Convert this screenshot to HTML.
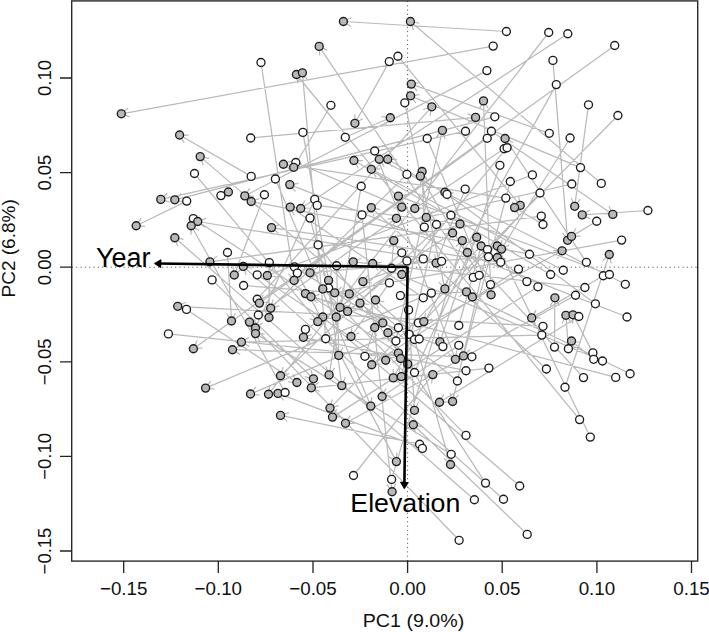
<!DOCTYPE html>
<html><head><meta charset="utf-8"><style>
html,body{margin:0;padding:0;background:#fff;}
body{width:709px;height:632px;position:relative;overflow:hidden;}
</style></head><body>
<svg width="709" height="632" viewBox="0 0 709 632" style="position:absolute;left:0;top:0"><line x1="72" y1="267.2" x2="698" y2="267.2" stroke="#444" stroke-width="1" stroke-dasharray="1 3.3"/><line x1="407.6" y1="1" x2="407.6" y2="561" stroke="#444" stroke-width="1" stroke-dasharray="1 3.3"/><path d="M261.0 62.5L294.1 280.4 M294.1 280.4l3.3 -8.4 M294.1 280.4l-5.6 -7.0 M330.9 105.3L293.7 167.3 M293.7 167.3l7.9 -4.4 M293.7 167.3l0.2 -9.0 M389.3 61.6L354.9 123.3 M354.9 123.3l7.7 -4.6 M354.9 123.3l-0.1 -9.0 M397.9 56.2L520.2 205.4 M520.2 205.4l-1.5 -8.9 M520.2 205.4l-8.4 -3.2 M404.8 102.8L444.9 288.9 M444.9 288.9l2.8 -8.6 M444.9 288.9l-6.0 -6.7 M506.4 31.5L343.4 21.5 M343.4 21.5l7.5 5.0 M343.4 21.5l8.1 -4.0 M548.7 32.5L268.5 394.2 M268.5 394.2l8.3 -3.4 M268.5 394.2l1.2 -8.9 M567.8 33.7L300.7 208.5 M300.7 208.5l9.0 -0.5 M300.7 208.5l4.1 -8.0 M493.2 46.1L121.3 113.8 M121.3 113.8l8.5 3.0 M121.3 113.8l6.9 -5.8 M552.9 60.4L567.6 240.3 M567.6 240.3l3.9 -8.1 M567.6 240.3l-5.1 -7.4 M486.9 70.6L244.8 195.9 M244.8 195.9l9.0 0.4 M244.8 195.9l4.9 -7.6 M556.3 84.6L393.3 377.9 M393.3 377.9l7.7 -4.6 M393.3 377.9l-0.1 -9.0 M588.5 104.8L574.7 206.3 M574.7 206.3l5.5 -7.1 M574.7 206.3l-3.4 -8.3 M614.7 45.5L193.4 348.7 M193.4 348.7l9.0 -0.9 M193.4 348.7l3.7 -8.2 M194.5 173.5L317.8 321.6 M317.8 321.6l-1.5 -8.9 M317.8 321.6l-8.4 -3.1 M186.7 201.1L136.2 225.7 M136.2 225.7l9.0 0.6 M136.2 225.7l5.0 -7.5 M220.9 195.6L228.4 192.0 M228.4 192.0l-9.0 -0.7 M228.4 192.0l-5.1 7.4 M250.7 138.0L475.6 117.4 M475.6 117.4l-8.2 -3.8 M475.6 117.4l-7.4 5.2 M302.9 132.4L328.6 280.4 M328.6 280.4l3.1 -8.4 M328.6 280.4l-5.8 -6.9 M295.8 162.5L401.8 207.1 M401.8 207.1l-5.4 -7.2 M401.8 207.1l-8.9 1.1 M251.2 176.4L179.6 135.0 M179.6 135.0l4.5 7.8 M179.6 135.0l9.0 0.0 M275.4 179.0L370.8 406.1 M370.8 406.1l1.1 -8.9 M370.8 406.1l-7.2 -5.4 M264.4 194.7L234.3 275.0 M234.3 275.0l6.9 -5.7 M234.3 275.0l-1.5 -8.9 M314.7 199.4L255.5 328.0 M255.5 328.0l7.3 -5.2 M255.5 328.0l-0.8 -9.0 M345.3 137.3L390.3 117.7 M390.3 117.7l-8.9 -1.0 M390.3 117.7l-5.3 7.2 M427.2 138.5L491.1 294.8 M491.1 294.8l1.2 -8.9 M491.1 294.8l-7.1 -5.5 M374.7 151.0L455.4 359.3 M455.4 359.3l1.4 -8.9 M455.4 359.3l-7.0 -5.6 M406.9 174.4L270.7 308.2 M270.7 308.2l8.7 -2.3 M270.7 308.2l2.4 -8.7 M361.2 186.2L329.1 374.9 M329.1 374.9l5.7 -6.9 M329.1 374.9l-3.1 -8.4 M447.0 194.4L387.7 159.2 M387.7 159.2l4.4 7.8 M387.7 159.2l9.0 0.1 M494.8 116.8L174.8 199.8 M174.8 199.8l8.7 2.4 M174.8 199.8l6.4 -6.3 M465.5 131.2L160.8 199.4 M160.8 199.4l8.6 2.7 M160.8 199.4l6.6 -6.1 M491.4 131.2L612.8 214.4 M612.8 214.4l-3.9 -8.1 M612.8 214.4l-9.0 -0.7 M487.2 138.3L259.4 303.1 M259.4 303.1l9.0 -0.9 M259.4 303.1l3.7 -8.2 M504.1 148.7L414.8 208.5 M414.8 208.5l9.0 -0.6 M414.8 208.5l4.0 -8.1 M507.1 147.7L401.8 274.5 M401.8 274.5l8.4 -3.1 M401.8 274.5l1.5 -8.9 M549.3 133.3L411.3 84.1 M411.3 84.1l5.8 6.9 M411.3 84.1l8.9 -1.6 M570.1 138.0L501.5 249.1 M501.5 249.1l7.9 -4.3 M501.5 249.1l0.3 -9.0 M499.9 165.3L439.9 341.9 M439.9 341.9l6.8 -5.9 M439.9 341.9l-1.8 -8.8 M532.4 174.9L267.3 275.5 M267.3 275.5l8.9 1.4 M267.3 275.5l5.7 -7.0 M510.3 181.5L463.5 355.9 M463.5 355.9l6.4 -6.4 M463.5 355.9l-2.3 -8.7 M571.8 184.0L426.3 217.4 M426.3 217.4l8.6 2.6 M426.3 217.4l6.6 -6.1 M465.2 189.1L436.1 263.0 M436.1 263.0l7.0 -5.6 M436.1 263.0l-1.3 -8.9 M540.0 193.0L423.8 321.6 M423.8 321.6l8.6 -2.8 M423.8 321.6l1.9 -8.8 M505.8 198.1L283.4 164.2 M283.4 164.2l7.0 5.6 M283.4 164.2l8.4 -3.3 M617.9 115.5L330.0 408.1 M330.0 408.1l8.7 -2.4 M330.0 408.1l2.3 -8.7 M580.5 167.6L410.6 95.8 M410.6 95.8l5.4 7.2 M410.6 95.8l8.9 -1.1 M601.3 183.4L410.4 21.5 M410.4 21.5l3.0 8.5 M410.4 21.5l8.9 1.6 M193.3 218.6L398.4 353.1 M398.4 353.1l-4.1 -8.0 M398.4 353.1l-9.0 -0.5 M212.1 279.9L313.4 378.8 M313.4 378.8l-2.4 -8.7 M313.4 378.8l-8.7 -2.2 M317.2 205.4L460.0 224.0 M460.0 224.0l-7.1 -5.5 M460.0 224.0l-8.3 3.5 M310.0 218.1L336.2 317.0 M336.2 317.0l2.4 -8.7 M336.2 317.0l-6.3 -6.4 M318.1 244.9L407.7 364.1 M407.7 364.1l-1.1 -8.9 M407.7 364.1l-8.3 -3.5 M227.5 252.5L231.5 321.0 M231.5 321.0l4.0 -8.0 M231.5 321.0l-4.9 -7.5 M269.3 262.6L269.0 317.5 M269.0 317.5l4.5 -7.8 M269.0 317.5l-4.5 -7.8 M294.4 266.9L382.8 322.9 M382.8 322.9l-4.2 -8.0 M382.8 322.9l-9.0 -0.4 M336.7 265.7L338.7 355.4 M338.7 355.4l4.3 -7.9 M338.7 355.4l-4.7 -7.7 M257.2 274.8L385.7 360.2 M385.7 360.2l-4.0 -8.1 M385.7 360.2l-9.0 -0.6 M297.4 273.1L396.4 461.6 M396.4 461.6l0.4 -9.0 M396.4 461.6l-7.6 -4.8 M243.6 285.5L349.3 293.9 M349.3 293.9l-7.4 -5.1 M349.3 293.9l-8.1 3.9 M328.6 288.0L341.8 385.6 M341.8 385.6l3.4 -8.3 M341.8 385.6l-5.5 -7.1 M362.0 214.9L392.1 491.7 M392.1 491.7l3.6 -8.2 M392.1 491.7l-5.3 -7.3 M424.3 227.1L422.1 171.5 M422.1 171.5l-4.2 8.0 M422.1 171.5l4.8 7.6 M436.5 224.5L401.3 376.6 M401.3 376.6l6.1 -6.6 M401.3 376.6l-2.6 -8.6 M450.9 215.2L280.5 375.7 M280.5 375.7l8.8 -2.1 M280.5 375.7l2.6 -8.6 M401.8 252.8L340.1 307.4 M340.1 307.4l8.8 -1.8 M340.1 307.4l2.9 -8.5 M406.9 260.9L347.6 311.4 M347.6 311.4l8.9 -1.6 M347.6 311.4l3.0 -8.5 M423.3 258.9L362.9 281.6 M362.9 281.6l8.9 1.5 M362.9 281.6l5.7 -7.0 M441.6 261.3L197.7 221.5 M197.7 221.5l7.0 5.7 M197.7 221.5l8.4 -3.2 M391.6 268.2L393.8 240.6 M393.8 240.6l-5.1 7.4 M393.8 240.6l3.9 8.1 M389.4 282.9L351.0 336.5 M351.0 336.5l8.2 -3.7 M351.0 336.5l0.9 -9.0 M400.4 295.6L466.5 291.9 M466.5 291.9l-8.0 -4.1 M466.5 291.9l-7.5 4.9 M431.4 293.1L205.6 388.1 M205.6 388.1l8.9 1.1 M205.6 388.1l5.4 -7.2 M423.3 297.8L290.2 207.1 M290.2 207.1l3.9 8.1 M290.2 207.1l9.0 0.7 M541.3 216.1L209.9 261.8 M209.9 261.8l8.3 3.4 M209.9 261.8l7.1 -5.5 M543.0 224.5L514.6 207.6 M514.6 207.6l4.4 7.9 M514.6 207.6l9.0 0.1 M487.5 249.6L452.6 401.5 M452.6 401.5l6.1 -6.6 M452.6 401.5l-2.6 -8.6 M488.5 256.7L310.0 272.8 M310.0 272.8l8.2 3.8 M310.0 272.8l7.4 -5.2 M500.7 262.3L271.5 227.6 M271.5 227.6l7.0 5.6 M271.5 227.6l8.4 -3.3 M529.5 254.2L251.2 201.5 M251.2 201.5l6.8 5.9 M251.2 201.5l8.5 -3.0 M518.5 269.1L371.7 364.7 M371.7 364.7l9.0 -0.5 M371.7 364.7l4.1 -8.0 M563.3 270.2L371.3 169.3 M371.3 169.3l4.8 7.6 M371.3 169.3l9.0 -0.4 M550.6 274.5L353.9 160.5 M353.9 160.5l4.5 7.8 M353.9 160.5l9.0 0.0 M473.3 277.4L319.2 46.4 M319.2 46.4l0.6 9.0 M319.2 46.4l8.1 4.0 M479.2 275.3L420.4 176.1 M420.4 176.1l0.1 9.0 M420.4 176.1l7.8 4.4 M526.9 281.6L497.3 257.5 M497.3 257.5l3.2 8.4 M497.3 257.5l8.9 1.4 M537.9 286.8L332.5 417.1 M332.5 417.1l9.0 -0.4 M332.5 417.1l4.2 -8.0 M490.5 284.6L483.5 100.9 M483.5 100.9l-4.2 8.0 M483.5 100.9l4.8 7.6 M575.5 295.2L345.5 423.3 M345.5 423.3l9.0 0.1 M345.5 423.3l4.6 -7.7 M647.9 210.5L582.2 214.9 M582.2 214.9l8.1 4.0 M582.2 214.9l7.5 -5.0 M596.7 221.2L571.5 236.4 M571.5 236.4l9.0 -0.2 M571.5 236.4l4.3 -7.9 M621.6 240.1L334.7 292.8 M334.7 292.8l8.5 3.0 M334.7 292.8l6.9 -5.8 M586.4 262.3L505.1 138.5 M505.1 138.5l0.5 9.0 M505.1 138.5l8.0 4.0 M603.3 275.7L531.7 317.9 M531.7 317.9l9.0 -0.1 M531.7 317.9l4.4 -7.8 M609.4 274.5L398.4 196.1 M398.4 196.1l5.7 6.9 M398.4 196.1l8.9 -1.5 M625.3 284.3L379.3 159.2 M379.3 159.2l4.9 7.5 M379.3 159.2l9.0 -0.5 M584.9 287.5L353.2 261.8 M353.2 261.8l7.3 5.3 M353.2 261.8l8.2 -3.6 M186.5 309.4L296.9 382.5 M296.9 382.5l-4.0 -8.1 M296.9 382.5l-9.0 -0.6 M168.4 333.9L400.6 358.5 M400.6 358.5l-7.3 -5.3 M400.6 358.5l-8.2 3.7 M257.2 299.2L431.8 106.8 M431.8 106.8l-8.6 2.7 M431.8 106.8l-1.9 8.8 M258.3 315.0L396.4 218.3 M396.4 218.3l-9.0 0.8 M396.4 218.3l-3.8 8.2 M305.4 329.4L452.6 233.0 M452.6 233.0l-9.0 0.5 M452.6 233.0l-4.1 8.0 M325.7 338.7L302.4 72.8 M302.4 72.8l-3.8 8.2 M302.4 72.8l5.2 7.4 M408.6 309.9L414.5 410.3 M414.5 410.3l4.0 -8.0 M414.5 410.3l-4.9 -7.5 M398.4 327.7L200.2 156.6 M200.2 156.6l3.0 8.5 M200.2 156.6l8.8 1.7 M409.1 334.3L562.1 250.8 M562.1 250.8l-9.0 -0.2 M562.1 250.8l-4.7 7.7 M395.9 341.0L442.4 130.4 M442.4 130.4l-6.1 6.6 M442.4 130.4l2.7 8.6 M414.5 339.5L450.5 464.5 M450.5 464.5l2.2 -8.7 M450.5 464.5l-6.5 -6.2 M419.2 339.0L375.5 300.0 M375.5 300.0l2.8 8.5 M375.5 300.0l8.8 1.8 M418.4 322.9L250.5 394.0 M250.5 394.0l8.9 1.1 M250.5 394.0l5.4 -7.2 M442.9 346.6L305.4 293.6 M305.4 293.6l5.7 7.0 M305.4 293.6l8.9 -1.4 M458.8 325.5L481.2 246.0 M481.2 246.0l-6.4 6.3 M481.2 246.0l2.2 8.7 M458.8 345.3L382.1 396.5 M382.1 396.5l9.0 -0.6 M382.1 396.5l4.0 -8.1 M364.9 356.3L374.7 327.5 M374.7 327.5l-6.8 5.9 M374.7 327.5l1.7 8.8 M414.5 372.5L476.7 237.2 M476.7 237.2l-7.3 5.2 M476.7 237.2l0.8 9.0 M457.4 381.0L360.0 303.1 M360.0 303.1l3.3 8.4 M360.0 303.1l8.9 1.4 M543.0 326.3L177.7 306.3 M177.7 306.3l7.5 4.9 M177.7 306.3l8.0 -4.1 M541.8 335.1L241.4 342.1 M241.4 342.1l7.9 4.3 M241.4 342.1l7.7 -4.7 M471.9 356.8L232.5 349.7 M232.5 349.7l7.7 4.7 M232.5 349.7l7.9 -4.3 M466.0 370.7L303.4 337.3 M303.4 337.3l6.7 6.0 M303.4 337.3l8.5 -2.8 M488.9 368.1L311.3 387.8 M311.3 387.8l8.2 3.6 M311.3 387.8l7.3 -5.3 M554.5 347.1L554.9 297.8 M554.9 297.8l-4.6 7.8 M554.9 297.8l4.4 7.8 M568.4 348.7L565.9 315.3 M565.9 315.3l-3.9 8.1 M565.9 315.3l5.1 7.4 M546.4 369.0L371.3 207.6 M371.3 207.6l2.7 8.6 M371.3 207.6l8.8 2.0 M565.0 387.2L609.3 254.5 M609.3 254.5l-6.7 6.0 M609.3 254.5l1.8 8.8 M595.4 303.8L444.9 192.2 M444.9 192.2l3.6 8.3 M444.9 192.2l8.9 1.0 M627.0 317.0L289.8 184.6 M289.8 184.6l5.6 7.0 M289.8 184.6l8.9 -1.3 M578.8 316.5L439.5 402.2 M439.5 402.2l9.0 -0.3 M439.5 402.2l4.3 -7.9 M592.9 352.9L573.0 314.8 M573.0 314.8l-0.4 9.0 M573.0 314.8l7.6 4.8 M593.7 359.3L571.5 341.0 M571.5 341.0l3.2 8.4 M571.5 341.0l8.9 1.5 M602.5 361.0L372.7 263.5 M372.7 263.5l5.4 7.2 M372.7 263.5l8.9 -1.1 M630.1 373.7L472.4 297.0 M472.4 297.0l5.0 7.5 M472.4 297.0l9.0 -0.6 M583.5 377.6L467.4 252.5 M467.4 252.5l2.0 8.8 M467.4 252.5l8.6 2.7 M615.7 377.4L311.0 296.8 M311.0 296.8l6.4 6.3 M311.0 296.8l8.7 -2.4 M285.1 392.5L191.2 225.7 M191.2 225.7l-0.1 9.0 M191.2 225.7l7.7 4.6 M419.6 444.2L280.5 415.4 M280.5 415.4l6.7 6.0 M280.5 415.4l8.5 -2.8 M422.4 448.4L278.0 393.4 M278.0 393.4l5.7 7.0 M278.0 393.4l8.9 -1.4 M451.2 454.3L255.5 333.6 M255.5 333.6l4.3 7.9 M255.5 333.6l9.0 0.3 M353.5 475.5L432.8 374.6 M432.8 374.6l-8.4 3.3 M432.8 374.6l-1.3 8.9 M391.6 479.4L462.3 240.6 M462.3 240.6l-6.5 6.2 M462.3 240.6l2.1 8.8 M466.0 435.4L322.8 288.9 M322.8 288.9l2.2 8.7 M322.8 288.9l8.7 2.4 M485.5 483.1L387.9 332.7 M387.9 332.7l0.5 9.0 M387.9 332.7l8.0 4.1 M519.7 486.0L322.8 317.0 M322.8 317.0l3.0 8.5 M322.8 317.0l8.8 1.7 M579.6 419.6L296.4 74.5 M296.4 74.5l1.5 8.9 M296.4 74.5l8.4 3.2 M590.3 437.1L497.3 246.0 M497.3 246.0l-0.6 9.0 M497.3 246.0l7.5 5.0 M474.4 499.7L174.8 237.7 M174.8 237.7l2.9 8.5 M174.8 237.7l8.8 1.7 M503.5 499.2L243.3 266.4 M243.3 266.4l2.8 8.6 M243.3 266.4l8.8 1.8 M527.2 534.4L413.3 424.7 M413.3 424.7l2.5 8.6 M413.3 424.7l8.7 2.2 M459.1 540.3L249.5 322.1 M249.5 322.1l2.2 8.7 M249.5 322.1l8.6 2.5" stroke="#bababa" stroke-width="1.25" fill="none"/><g stroke="#1c1c1c" stroke-width="1.35"><circle cx="343.4" cy="21.5" r="4" fill="#b9b9b9"/><circle cx="319.2" cy="46.4" r="4" fill="#b9b9b9"/><circle cx="261.0" cy="62.5" r="4" fill="#ffffff"/><circle cx="296.4" cy="74.5" r="4" fill="#b9b9b9"/><circle cx="302.4" cy="72.8" r="4" fill="#b9b9b9"/><circle cx="330.9" cy="105.3" r="4" fill="#ffffff"/><circle cx="410.4" cy="21.5" r="4" fill="#b9b9b9"/><circle cx="389.3" cy="61.6" r="4" fill="#ffffff"/><circle cx="397.9" cy="56.2" r="4" fill="#ffffff"/><circle cx="411.3" cy="84.1" r="4" fill="#b9b9b9"/><circle cx="410.6" cy="95.8" r="4" fill="#b9b9b9"/><circle cx="404.8" cy="102.8" r="4" fill="#ffffff"/><circle cx="431.8" cy="106.8" r="4" fill="#b9b9b9"/><circle cx="506.4" cy="31.5" r="4" fill="#ffffff"/><circle cx="548.7" cy="32.5" r="4" fill="#ffffff"/><circle cx="567.8" cy="33.7" r="4" fill="#ffffff"/><circle cx="493.2" cy="46.1" r="4" fill="#ffffff"/><circle cx="552.9" cy="60.4" r="4" fill="#ffffff"/><circle cx="486.9" cy="70.6" r="4" fill="#ffffff"/><circle cx="556.3" cy="84.6" r="4" fill="#ffffff"/><circle cx="483.5" cy="100.9" r="4" fill="#b9b9b9"/><circle cx="588.5" cy="104.8" r="4" fill="#ffffff"/><circle cx="614.7" cy="45.5" r="4" fill="#ffffff"/><circle cx="121.3" cy="113.8" r="4" fill="#b9b9b9"/><circle cx="179.6" cy="135.0" r="4" fill="#b9b9b9"/><circle cx="200.2" cy="156.6" r="4" fill="#b9b9b9"/><circle cx="194.5" cy="173.5" r="4" fill="#ffffff"/><circle cx="160.8" cy="199.4" r="4" fill="#b9b9b9"/><circle cx="174.8" cy="199.8" r="4" fill="#b9b9b9"/><circle cx="186.7" cy="201.1" r="4" fill="#ffffff"/><circle cx="220.9" cy="195.6" r="4" fill="#ffffff"/><circle cx="228.4" cy="192.0" r="4" fill="#b9b9b9"/><circle cx="250.7" cy="138.0" r="4" fill="#ffffff"/><circle cx="302.9" cy="132.4" r="4" fill="#ffffff"/><circle cx="283.4" cy="164.2" r="4" fill="#b9b9b9"/><circle cx="295.8" cy="162.5" r="4" fill="#ffffff"/><circle cx="293.7" cy="167.3" r="4" fill="#b9b9b9"/><circle cx="251.2" cy="176.4" r="4" fill="#ffffff"/><circle cx="275.4" cy="179.0" r="4" fill="#ffffff"/><circle cx="289.8" cy="184.6" r="4" fill="#b9b9b9"/><circle cx="244.8" cy="195.9" r="4" fill="#b9b9b9"/><circle cx="264.4" cy="194.7" r="4" fill="#ffffff"/><circle cx="251.2" cy="201.5" r="4" fill="#b9b9b9"/><circle cx="314.7" cy="199.4" r="4" fill="#ffffff"/><circle cx="354.9" cy="123.3" r="4" fill="#b9b9b9"/><circle cx="390.3" cy="117.7" r="4" fill="#b9b9b9"/><circle cx="442.4" cy="130.4" r="4" fill="#b9b9b9"/><circle cx="345.3" cy="137.3" r="4" fill="#ffffff"/><circle cx="427.2" cy="138.5" r="4" fill="#ffffff"/><circle cx="374.7" cy="151.0" r="4" fill="#ffffff"/><circle cx="379.3" cy="159.2" r="4" fill="#b9b9b9"/><circle cx="387.7" cy="159.2" r="4" fill="#b9b9b9"/><circle cx="353.9" cy="160.5" r="4" fill="#b9b9b9"/><circle cx="371.3" cy="169.3" r="4" fill="#b9b9b9"/><circle cx="406.9" cy="174.4" r="4" fill="#ffffff"/><circle cx="422.1" cy="171.5" r="4" fill="#b9b9b9"/><circle cx="420.4" cy="176.1" r="4" fill="#b9b9b9"/><circle cx="361.2" cy="186.2" r="4" fill="#ffffff"/><circle cx="398.4" cy="196.1" r="4" fill="#b9b9b9"/><circle cx="444.9" cy="192.2" r="4" fill="#b9b9b9"/><circle cx="447.0" cy="194.4" r="4" fill="#ffffff"/><circle cx="475.6" cy="117.4" r="4" fill="#b9b9b9"/><circle cx="494.8" cy="116.8" r="4" fill="#ffffff"/><circle cx="465.5" cy="131.2" r="4" fill="#ffffff"/><circle cx="491.4" cy="131.2" r="4" fill="#ffffff"/><circle cx="487.2" cy="138.3" r="4" fill="#ffffff"/><circle cx="505.1" cy="138.5" r="4" fill="#b9b9b9"/><circle cx="504.1" cy="148.7" r="4" fill="#ffffff"/><circle cx="507.1" cy="147.7" r="4" fill="#ffffff"/><circle cx="549.3" cy="133.3" r="4" fill="#ffffff"/><circle cx="570.1" cy="138.0" r="4" fill="#ffffff"/><circle cx="499.9" cy="165.3" r="4" fill="#ffffff"/><circle cx="532.4" cy="174.9" r="4" fill="#ffffff"/><circle cx="510.3" cy="181.5" r="4" fill="#ffffff"/><circle cx="571.8" cy="184.0" r="4" fill="#ffffff"/><circle cx="465.2" cy="189.1" r="4" fill="#ffffff"/><circle cx="540.0" cy="193.0" r="4" fill="#ffffff"/><circle cx="505.8" cy="198.1" r="4" fill="#ffffff"/><circle cx="617.9" cy="115.5" r="4" fill="#ffffff"/><circle cx="580.5" cy="167.6" r="4" fill="#ffffff"/><circle cx="601.3" cy="183.4" r="4" fill="#ffffff"/><circle cx="136.2" cy="225.7" r="4" fill="#b9b9b9"/><circle cx="193.3" cy="218.6" r="4" fill="#ffffff"/><circle cx="197.7" cy="221.5" r="4" fill="#b9b9b9"/><circle cx="191.2" cy="225.7" r="4" fill="#b9b9b9"/><circle cx="174.8" cy="237.7" r="4" fill="#b9b9b9"/><circle cx="209.9" cy="261.8" r="4" fill="#b9b9b9"/><circle cx="212.1" cy="279.9" r="4" fill="#ffffff"/><circle cx="290.2" cy="207.1" r="4" fill="#b9b9b9"/><circle cx="300.7" cy="208.5" r="4" fill="#b9b9b9"/><circle cx="317.2" cy="205.4" r="4" fill="#ffffff"/><circle cx="310.0" cy="218.1" r="4" fill="#ffffff"/><circle cx="271.5" cy="227.6" r="4" fill="#b9b9b9"/><circle cx="318.1" cy="244.9" r="4" fill="#ffffff"/><circle cx="227.5" cy="252.5" r="4" fill="#ffffff"/><circle cx="269.3" cy="262.6" r="4" fill="#ffffff"/><circle cx="243.3" cy="266.4" r="4" fill="#b9b9b9"/><circle cx="294.4" cy="266.9" r="4" fill="#ffffff"/><circle cx="336.7" cy="265.7" r="4" fill="#ffffff"/><circle cx="234.3" cy="275.0" r="4" fill="#b9b9b9"/><circle cx="257.2" cy="274.8" r="4" fill="#ffffff"/><circle cx="267.3" cy="275.5" r="4" fill="#b9b9b9"/><circle cx="297.4" cy="273.1" r="4" fill="#ffffff"/><circle cx="310.0" cy="272.8" r="4" fill="#b9b9b9"/><circle cx="294.1" cy="280.4" r="4" fill="#b9b9b9"/><circle cx="243.6" cy="285.5" r="4" fill="#ffffff"/><circle cx="328.6" cy="280.4" r="4" fill="#b9b9b9"/><circle cx="328.6" cy="288.0" r="4" fill="#ffffff"/><circle cx="322.8" cy="288.9" r="4" fill="#b9b9b9"/><circle cx="334.7" cy="292.8" r="4" fill="#b9b9b9"/><circle cx="305.4" cy="293.6" r="4" fill="#b9b9b9"/><circle cx="311.0" cy="296.8" r="4" fill="#b9b9b9"/><circle cx="371.3" cy="207.6" r="4" fill="#b9b9b9"/><circle cx="362.0" cy="214.9" r="4" fill="#ffffff"/><circle cx="401.8" cy="207.1" r="4" fill="#b9b9b9"/><circle cx="414.8" cy="208.5" r="4" fill="#b9b9b9"/><circle cx="396.4" cy="218.3" r="4" fill="#b9b9b9"/><circle cx="426.3" cy="217.4" r="4" fill="#b9b9b9"/><circle cx="424.3" cy="227.1" r="4" fill="#ffffff"/><circle cx="436.5" cy="224.5" r="4" fill="#ffffff"/><circle cx="450.9" cy="215.2" r="4" fill="#ffffff"/><circle cx="460.0" cy="224.0" r="4" fill="#b9b9b9"/><circle cx="452.6" cy="233.0" r="4" fill="#b9b9b9"/><circle cx="393.8" cy="240.6" r="4" fill="#b9b9b9"/><circle cx="401.8" cy="252.8" r="4" fill="#ffffff"/><circle cx="406.9" cy="260.9" r="4" fill="#ffffff"/><circle cx="423.3" cy="258.9" r="4" fill="#ffffff"/><circle cx="436.1" cy="263.0" r="4" fill="#b9b9b9"/><circle cx="441.6" cy="261.3" r="4" fill="#ffffff"/><circle cx="353.2" cy="261.8" r="4" fill="#b9b9b9"/><circle cx="372.7" cy="263.5" r="4" fill="#b9b9b9"/><circle cx="391.6" cy="268.2" r="4" fill="#ffffff"/><circle cx="401.8" cy="274.5" r="4" fill="#b9b9b9"/><circle cx="362.9" cy="281.6" r="4" fill="#b9b9b9"/><circle cx="389.4" cy="282.9" r="4" fill="#ffffff"/><circle cx="349.3" cy="293.9" r="4" fill="#b9b9b9"/><circle cx="400.4" cy="295.6" r="4" fill="#ffffff"/><circle cx="444.9" cy="288.9" r="4" fill="#b9b9b9"/><circle cx="431.4" cy="293.1" r="4" fill="#ffffff"/><circle cx="423.3" cy="297.8" r="4" fill="#ffffff"/><circle cx="375.5" cy="300.0" r="4" fill="#b9b9b9"/><circle cx="520.2" cy="205.4" r="4" fill="#b9b9b9"/><circle cx="514.6" cy="207.6" r="4" fill="#b9b9b9"/><circle cx="541.3" cy="216.1" r="4" fill="#ffffff"/><circle cx="543.0" cy="224.5" r="4" fill="#ffffff"/><circle cx="476.7" cy="237.2" r="4" fill="#b9b9b9"/><circle cx="462.3" cy="240.6" r="4" fill="#b9b9b9"/><circle cx="481.2" cy="246.0" r="4" fill="#b9b9b9"/><circle cx="487.5" cy="249.6" r="4" fill="#ffffff"/><circle cx="488.5" cy="256.7" r="4" fill="#ffffff"/><circle cx="497.3" cy="246.0" r="4" fill="#b9b9b9"/><circle cx="501.5" cy="249.1" r="4" fill="#b9b9b9"/><circle cx="497.3" cy="257.5" r="4" fill="#b9b9b9"/><circle cx="500.7" cy="262.3" r="4" fill="#ffffff"/><circle cx="467.4" cy="252.5" r="4" fill="#b9b9b9"/><circle cx="529.5" cy="254.2" r="4" fill="#ffffff"/><circle cx="567.6" cy="240.3" r="4" fill="#b9b9b9"/><circle cx="571.5" cy="236.4" r="4" fill="#b9b9b9"/><circle cx="562.1" cy="250.8" r="4" fill="#b9b9b9"/><circle cx="518.5" cy="269.1" r="4" fill="#ffffff"/><circle cx="563.3" cy="270.2" r="4" fill="#ffffff"/><circle cx="550.6" cy="274.5" r="4" fill="#ffffff"/><circle cx="473.3" cy="277.4" r="4" fill="#ffffff"/><circle cx="479.2" cy="275.3" r="4" fill="#ffffff"/><circle cx="526.9" cy="281.6" r="4" fill="#ffffff"/><circle cx="537.9" cy="286.8" r="4" fill="#ffffff"/><circle cx="490.5" cy="284.6" r="4" fill="#ffffff"/><circle cx="466.5" cy="291.9" r="4" fill="#b9b9b9"/><circle cx="472.4" cy="297.0" r="4" fill="#b9b9b9"/><circle cx="491.1" cy="294.8" r="4" fill="#b9b9b9"/><circle cx="554.9" cy="297.8" r="4" fill="#b9b9b9"/><circle cx="575.5" cy="295.2" r="4" fill="#ffffff"/><circle cx="574.7" cy="206.3" r="4" fill="#b9b9b9"/><circle cx="582.2" cy="214.9" r="4" fill="#b9b9b9"/><circle cx="612.8" cy="214.4" r="4" fill="#b9b9b9"/><circle cx="647.9" cy="210.5" r="4" fill="#ffffff"/><circle cx="596.7" cy="221.2" r="4" fill="#ffffff"/><circle cx="621.6" cy="240.1" r="4" fill="#ffffff"/><circle cx="609.3" cy="254.5" r="4" fill="#b9b9b9"/><circle cx="586.4" cy="262.3" r="4" fill="#ffffff"/><circle cx="603.3" cy="275.7" r="4" fill="#ffffff"/><circle cx="609.4" cy="274.5" r="4" fill="#ffffff"/><circle cx="625.3" cy="284.3" r="4" fill="#ffffff"/><circle cx="584.9" cy="287.5" r="4" fill="#ffffff"/><circle cx="177.7" cy="306.3" r="4" fill="#b9b9b9"/><circle cx="186.5" cy="309.4" r="4" fill="#ffffff"/><circle cx="168.4" cy="333.9" r="4" fill="#ffffff"/><circle cx="193.4" cy="348.7" r="4" fill="#b9b9b9"/><circle cx="205.6" cy="388.1" r="4" fill="#b9b9b9"/><circle cx="257.2" cy="299.2" r="4" fill="#ffffff"/><circle cx="259.4" cy="303.1" r="4" fill="#b9b9b9"/><circle cx="270.7" cy="308.2" r="4" fill="#b9b9b9"/><circle cx="258.3" cy="315.0" r="4" fill="#ffffff"/><circle cx="269.0" cy="317.5" r="4" fill="#b9b9b9"/><circle cx="231.5" cy="321.0" r="4" fill="#b9b9b9"/><circle cx="249.5" cy="322.1" r="4" fill="#b9b9b9"/><circle cx="255.5" cy="328.0" r="4" fill="#b9b9b9"/><circle cx="255.5" cy="333.6" r="4" fill="#b9b9b9"/><circle cx="241.4" cy="342.1" r="4" fill="#b9b9b9"/><circle cx="232.5" cy="349.7" r="4" fill="#b9b9b9"/><circle cx="322.8" cy="317.0" r="4" fill="#b9b9b9"/><circle cx="317.8" cy="321.6" r="4" fill="#b9b9b9"/><circle cx="305.4" cy="329.4" r="4" fill="#ffffff"/><circle cx="303.4" cy="337.3" r="4" fill="#b9b9b9"/><circle cx="325.7" cy="338.7" r="4" fill="#ffffff"/><circle cx="340.1" cy="307.4" r="4" fill="#b9b9b9"/><circle cx="336.2" cy="317.0" r="4" fill="#b9b9b9"/><circle cx="338.7" cy="355.4" r="4" fill="#b9b9b9"/><circle cx="280.5" cy="375.7" r="4" fill="#b9b9b9"/><circle cx="296.9" cy="382.5" r="4" fill="#b9b9b9"/><circle cx="313.4" cy="378.8" r="4" fill="#b9b9b9"/><circle cx="329.1" cy="374.9" r="4" fill="#b9b9b9"/><circle cx="311.3" cy="387.8" r="4" fill="#b9b9b9"/><circle cx="341.8" cy="385.6" r="4" fill="#b9b9b9"/><circle cx="360.0" cy="303.1" r="4" fill="#b9b9b9"/><circle cx="347.6" cy="311.4" r="4" fill="#b9b9b9"/><circle cx="408.6" cy="309.9" r="4" fill="#ffffff"/><circle cx="382.8" cy="322.9" r="4" fill="#b9b9b9"/><circle cx="374.7" cy="327.5" r="4" fill="#b9b9b9"/><circle cx="398.4" cy="327.7" r="4" fill="#ffffff"/><circle cx="387.9" cy="332.7" r="4" fill="#b9b9b9"/><circle cx="351.0" cy="336.5" r="4" fill="#b9b9b9"/><circle cx="409.1" cy="334.3" r="4" fill="#ffffff"/><circle cx="395.9" cy="341.0" r="4" fill="#ffffff"/><circle cx="414.5" cy="339.5" r="4" fill="#ffffff"/><circle cx="419.2" cy="339.0" r="4" fill="#ffffff"/><circle cx="418.4" cy="322.9" r="4" fill="#ffffff"/><circle cx="423.8" cy="321.6" r="4" fill="#b9b9b9"/><circle cx="439.9" cy="341.9" r="4" fill="#b9b9b9"/><circle cx="442.9" cy="346.6" r="4" fill="#ffffff"/><circle cx="458.8" cy="325.5" r="4" fill="#ffffff"/><circle cx="458.8" cy="345.3" r="4" fill="#ffffff"/><circle cx="364.9" cy="356.3" r="4" fill="#ffffff"/><circle cx="371.7" cy="364.7" r="4" fill="#b9b9b9"/><circle cx="385.7" cy="360.2" r="4" fill="#b9b9b9"/><circle cx="398.4" cy="353.1" r="4" fill="#b9b9b9"/><circle cx="400.6" cy="358.5" r="4" fill="#b9b9b9"/><circle cx="407.7" cy="364.1" r="4" fill="#b9b9b9"/><circle cx="414.5" cy="372.5" r="4" fill="#ffffff"/><circle cx="432.8" cy="374.6" r="4" fill="#b9b9b9"/><circle cx="455.4" cy="359.3" r="4" fill="#b9b9b9"/><circle cx="457.4" cy="381.0" r="4" fill="#ffffff"/><circle cx="393.3" cy="377.9" r="4" fill="#b9b9b9"/><circle cx="401.3" cy="376.6" r="4" fill="#b9b9b9"/><circle cx="531.7" cy="317.9" r="4" fill="#b9b9b9"/><circle cx="543.0" cy="326.3" r="4" fill="#ffffff"/><circle cx="541.8" cy="335.1" r="4" fill="#ffffff"/><circle cx="565.9" cy="315.3" r="4" fill="#b9b9b9"/><circle cx="463.5" cy="355.9" r="4" fill="#b9b9b9"/><circle cx="471.9" cy="356.8" r="4" fill="#ffffff"/><circle cx="466.0" cy="370.7" r="4" fill="#ffffff"/><circle cx="488.9" cy="368.1" r="4" fill="#ffffff"/><circle cx="554.5" cy="347.1" r="4" fill="#ffffff"/><circle cx="571.5" cy="341.0" r="4" fill="#b9b9b9"/><circle cx="568.4" cy="348.7" r="4" fill="#ffffff"/><circle cx="546.4" cy="369.0" r="4" fill="#ffffff"/><circle cx="565.0" cy="387.2" r="4" fill="#ffffff"/><circle cx="595.4" cy="303.8" r="4" fill="#ffffff"/><circle cx="627.0" cy="317.0" r="4" fill="#ffffff"/><circle cx="573.0" cy="314.8" r="4" fill="#b9b9b9"/><circle cx="578.8" cy="316.5" r="4" fill="#ffffff"/><circle cx="592.9" cy="352.9" r="4" fill="#ffffff"/><circle cx="593.7" cy="359.3" r="4" fill="#ffffff"/><circle cx="602.5" cy="361.0" r="4" fill="#ffffff"/><circle cx="630.1" cy="373.7" r="4" fill="#ffffff"/><circle cx="583.5" cy="377.6" r="4" fill="#ffffff"/><circle cx="615.7" cy="377.4" r="4" fill="#ffffff"/><circle cx="250.5" cy="394.0" r="4" fill="#b9b9b9"/><circle cx="268.5" cy="394.2" r="4" fill="#b9b9b9"/><circle cx="278.0" cy="393.4" r="4" fill="#b9b9b9"/><circle cx="285.1" cy="392.5" r="4" fill="#ffffff"/><circle cx="280.5" cy="415.4" r="4" fill="#b9b9b9"/><circle cx="330.0" cy="408.1" r="4" fill="#b9b9b9"/><circle cx="332.5" cy="417.1" r="4" fill="#b9b9b9"/><circle cx="382.1" cy="396.5" r="4" fill="#b9b9b9"/><circle cx="370.8" cy="406.1" r="4" fill="#b9b9b9"/><circle cx="345.5" cy="423.3" r="4" fill="#b9b9b9"/><circle cx="414.5" cy="410.3" r="4" fill="#b9b9b9"/><circle cx="413.3" cy="424.7" r="4" fill="#b9b9b9"/><circle cx="439.5" cy="402.2" r="4" fill="#b9b9b9"/><circle cx="452.6" cy="401.5" r="4" fill="#b9b9b9"/><circle cx="419.6" cy="444.2" r="4" fill="#ffffff"/><circle cx="422.4" cy="448.4" r="4" fill="#ffffff"/><circle cx="451.2" cy="454.3" r="4" fill="#ffffff"/><circle cx="450.5" cy="464.5" r="4" fill="#b9b9b9"/><circle cx="396.4" cy="461.6" r="4" fill="#b9b9b9"/><circle cx="353.5" cy="475.5" r="4" fill="#ffffff"/><circle cx="391.6" cy="479.4" r="4" fill="#ffffff"/><circle cx="466.0" cy="435.4" r="4" fill="#ffffff"/><circle cx="485.5" cy="483.1" r="4" fill="#ffffff"/><circle cx="519.7" cy="486.0" r="4" fill="#ffffff"/><circle cx="579.6" cy="419.6" r="4" fill="#ffffff"/><circle cx="590.3" cy="437.1" r="4" fill="#ffffff"/><circle cx="392.1" cy="491.7" r="4" fill="#b9b9b9"/><circle cx="474.4" cy="499.7" r="4" fill="#ffffff"/><circle cx="503.5" cy="499.2" r="4" fill="#ffffff"/><circle cx="527.2" cy="534.4" r="4" fill="#ffffff"/><circle cx="459.1" cy="540.3" r="4" fill="#ffffff"/></g><g stroke="#000" stroke-width="2.6" fill="none" stroke-linecap="butt"><path d="M407.6 267 L158 263.55"/><path d="M407.6 267 L404.35 485"/></g><path d="M154.8 263.5L160.8 259.9L160.6 267.3Z" fill="#000" stroke="#000" stroke-width="1.2" stroke-linejoin="round"/><path d="M404.3 488.3L400.7 482.3L408.1 482.5Z" fill="#000" stroke="#000" stroke-width="1.2" stroke-linejoin="round"/><rect x="71.7" y="0.9" width="626" height="560.2" fill="none" stroke="#2a2a2a" stroke-width="1.4"/><path d="M123.7 561L123.7 573 M218.3 561L218.3 573 M313.0 561L313.0 573 M407.6 561L407.6 573 M502.2 561L502.2 573 M596.9 561L596.9 573 M691.5 561L691.5 573 M72 78.0L60 78.0 M72 172.6L60 172.6 M72 267.2L60 267.2 M72 361.8L60 361.8 M72 456.4L60 456.4 M72 551.0L60 551.0" stroke="#222" stroke-width="1.3"/><g font-family="Liberation Sans, sans-serif" font-size="18.5" fill="#111"><text transform="translate(123.7 594.9) scale(1.015 1)" text-anchor="middle">−0.15</text><text transform="translate(218.3 594.9) scale(1.015 1)" text-anchor="middle">−0.10</text><text transform="translate(313.0 594.9) scale(1.015 1)" text-anchor="middle">−0.05</text><text transform="translate(407.6 594.9) scale(1.015 1)" text-anchor="middle">0.00</text><text transform="translate(502.2 594.9) scale(1.015 1)" text-anchor="middle">0.05</text><text transform="translate(596.9 594.9) scale(1.015 1)" text-anchor="middle">0.10</text><text transform="translate(691.5 594.9) scale(1.015 1)" text-anchor="middle">0.15</text><text text-anchor="middle" transform="translate(51.2 78.0) rotate(-90)">0.10</text><text text-anchor="middle" transform="translate(51.2 172.6) rotate(-90)">0.05</text><text text-anchor="middle" transform="translate(51.2 267.2) rotate(-90)">0.00</text><text text-anchor="middle" transform="translate(51.2 361.8) rotate(-90)">−0.05</text><text text-anchor="middle" transform="translate(51.2 456.4) rotate(-90)">−0.10</text><text text-anchor="middle" transform="translate(51.2 551.0) rotate(-90)">−0.15</text></g><text transform="translate(413.5 626.7) scale(1.035 1)" text-anchor="middle" font-family="Liberation Sans, sans-serif" font-size="19" fill="#111">PC1 (9.0%)</text><text transform="translate(15.4 248.4) rotate(-90) scale(1.0 1)" text-anchor="middle" font-family="Liberation Sans, sans-serif" font-size="19" fill="#111">PC2 (6.8%)</text><text transform="translate(96 267.1) scale(1.0 1)" text-anchor="start" font-family="Liberation Sans, sans-serif" font-size="27" fill="#000">Year</text><text transform="translate(350.3 512.4) scale(1.03 1)" text-anchor="start" font-family="Liberation Sans, sans-serif" font-size="26" fill="#000">Elevation</text></svg>
</body></html>
